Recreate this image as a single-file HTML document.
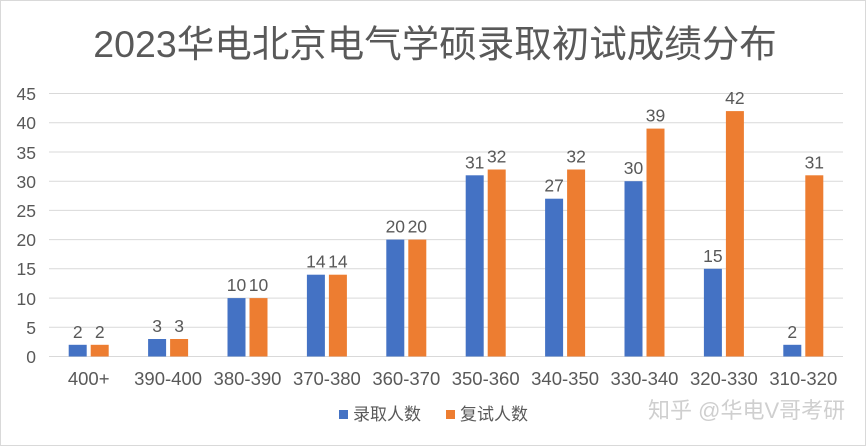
<!DOCTYPE html>
<html><head><meta charset="utf-8"><style>
body{margin:0;background:#fff}
svg{display:block}
text{font-family:"Liberation Sans","Noto Sans CJK SC",sans-serif;fill:#595959}
</style></head><body>
<svg width="867" height="446" viewBox="0 0 867 446">
<rect x="0.5" y="0.5" width="865" height="445" fill="#fff" stroke="#d9d9d9"/>
<text x="435" y="57" font-size="37.5" text-anchor="middle">2023华电北京电气学硕录取初试成绩分布</text>
<g stroke="#d9d9d9" stroke-width="1">
<line x1="49" x2="843" y1="356.5" y2="356.5"/>
<line x1="49" x2="843" y1="327.3" y2="327.3"/>
<line x1="49" x2="843" y1="298.1" y2="298.1"/>
<line x1="49" x2="843" y1="268.8" y2="268.8"/>
<line x1="49" x2="843" y1="239.6" y2="239.6"/>
<line x1="49" x2="843" y1="210.4" y2="210.4"/>
<line x1="49" x2="843" y1="181.2" y2="181.2"/>
<line x1="49" x2="843" y1="152.0" y2="152.0"/>
<line x1="49" x2="843" y1="122.7" y2="122.7"/>
<line x1="49" x2="843" y1="93.5" y2="93.5"/>
</g>
<g font-size="17.5" text-anchor="end">
<text x="36" y="363">0</text><text x="36" y="334">5</text><text x="36" y="305">10</text><text x="36" y="275">15</text><text x="36" y="246">20</text><text x="36" y="217">25</text><text x="36" y="188">30</text><text x="36" y="159">35</text><text x="36" y="129">40</text><text x="36" y="100">45</text>
</g>
<g fill="#4472c4">
<rect x="68.7" y="344.8" width="18" height="11.7"/>
<rect x="148.1" y="339" width="18" height="17.5"/>
<rect x="227.5" y="298.1" width="18" height="58.4"/>
<rect x="306.9" y="274.7" width="18" height="81.8"/>
<rect x="386.3" y="239.6" width="18" height="116.9"/>
<rect x="465.7" y="175.3" width="18" height="181.2"/>
<rect x="545.1" y="198.7" width="18" height="157.8"/>
<rect x="624.5" y="181.2" width="18" height="175.3"/>
<rect x="703.9" y="268.8" width="18" height="87.7"/>
<rect x="783.3" y="344.8" width="18" height="11.7"/>
</g>
<g fill="#ed7d31">
<rect x="90.7" y="344.8" width="18" height="11.7"/>
<rect x="170.1" y="339" width="18" height="17.5"/>
<rect x="249.5" y="298.1" width="18" height="58.4"/>
<rect x="328.9" y="274.7" width="18" height="81.8"/>
<rect x="408.3" y="239.6" width="18" height="116.9"/>
<rect x="487.7" y="169.5" width="18" height="187"/>
<rect x="567.1" y="169.5" width="18" height="187"/>
<rect x="646.5" y="128.6" width="18" height="227.9"/>
<rect x="725.9" y="111.1" width="18" height="245.4"/>
<rect x="805.3" y="175.3" width="18" height="181.2"/>
</g>
<g font-size="17.5" text-anchor="middle">
<text x="77.7" y="337.8">2</text><text x="99.7" y="337.8">2</text>
<text x="157.1" y="332">3</text><text x="179.1" y="332">3</text>
<text x="236.5" y="291.1">10</text><text x="258.5" y="291.1">10</text>
<text x="315.9" y="267.7">14</text><text x="337.9" y="267.7">14</text>
<text x="395.3" y="232.6">20</text><text x="417.3" y="232.6">20</text>
<text x="474.7" y="168.3">31</text><text x="496.7" y="162.5">32</text>
<text x="554.1" y="191.7">27</text><text x="576.1" y="162.5">32</text>
<text x="633.5" y="174.2">30</text><text x="655.5" y="121.6">39</text>
<text x="712.9" y="261.8">15</text><text x="734.9" y="104.1">42</text>
<text x="792.3" y="337.8">2</text><text x="814.3" y="168.3">31</text>
</g>
<g font-size="18.5" text-anchor="middle">
<text x="88.7" y="385">400+</text>
<text x="168.1" y="385">390-400</text>
<text x="247.5" y="385">380-390</text>
<text x="326.9" y="385">370-380</text>
<text x="406.3" y="385">360-370</text>
<text x="485.7" y="385">350-360</text>
<text x="565.1" y="385">340-350</text>
<text x="644.5" y="385">330-340</text>
<text x="723.9" y="385">320-330</text>
<text x="803.3" y="385">310-320</text>
</g>
<rect x="339" y="410" width="9" height="9" fill="#4472c4"/>
<rect x="446" y="410" width="9" height="9" fill="#ed7d31"/>
<text x="353" y="420" font-size="17">录取人数</text>
<text x="460" y="420" font-size="17">复试人数</text>
<text x="648" y="418" font-size="22" style="fill:#cfcfcf">知乎 @华电V哥考研</text>
</svg>
</body></html>
